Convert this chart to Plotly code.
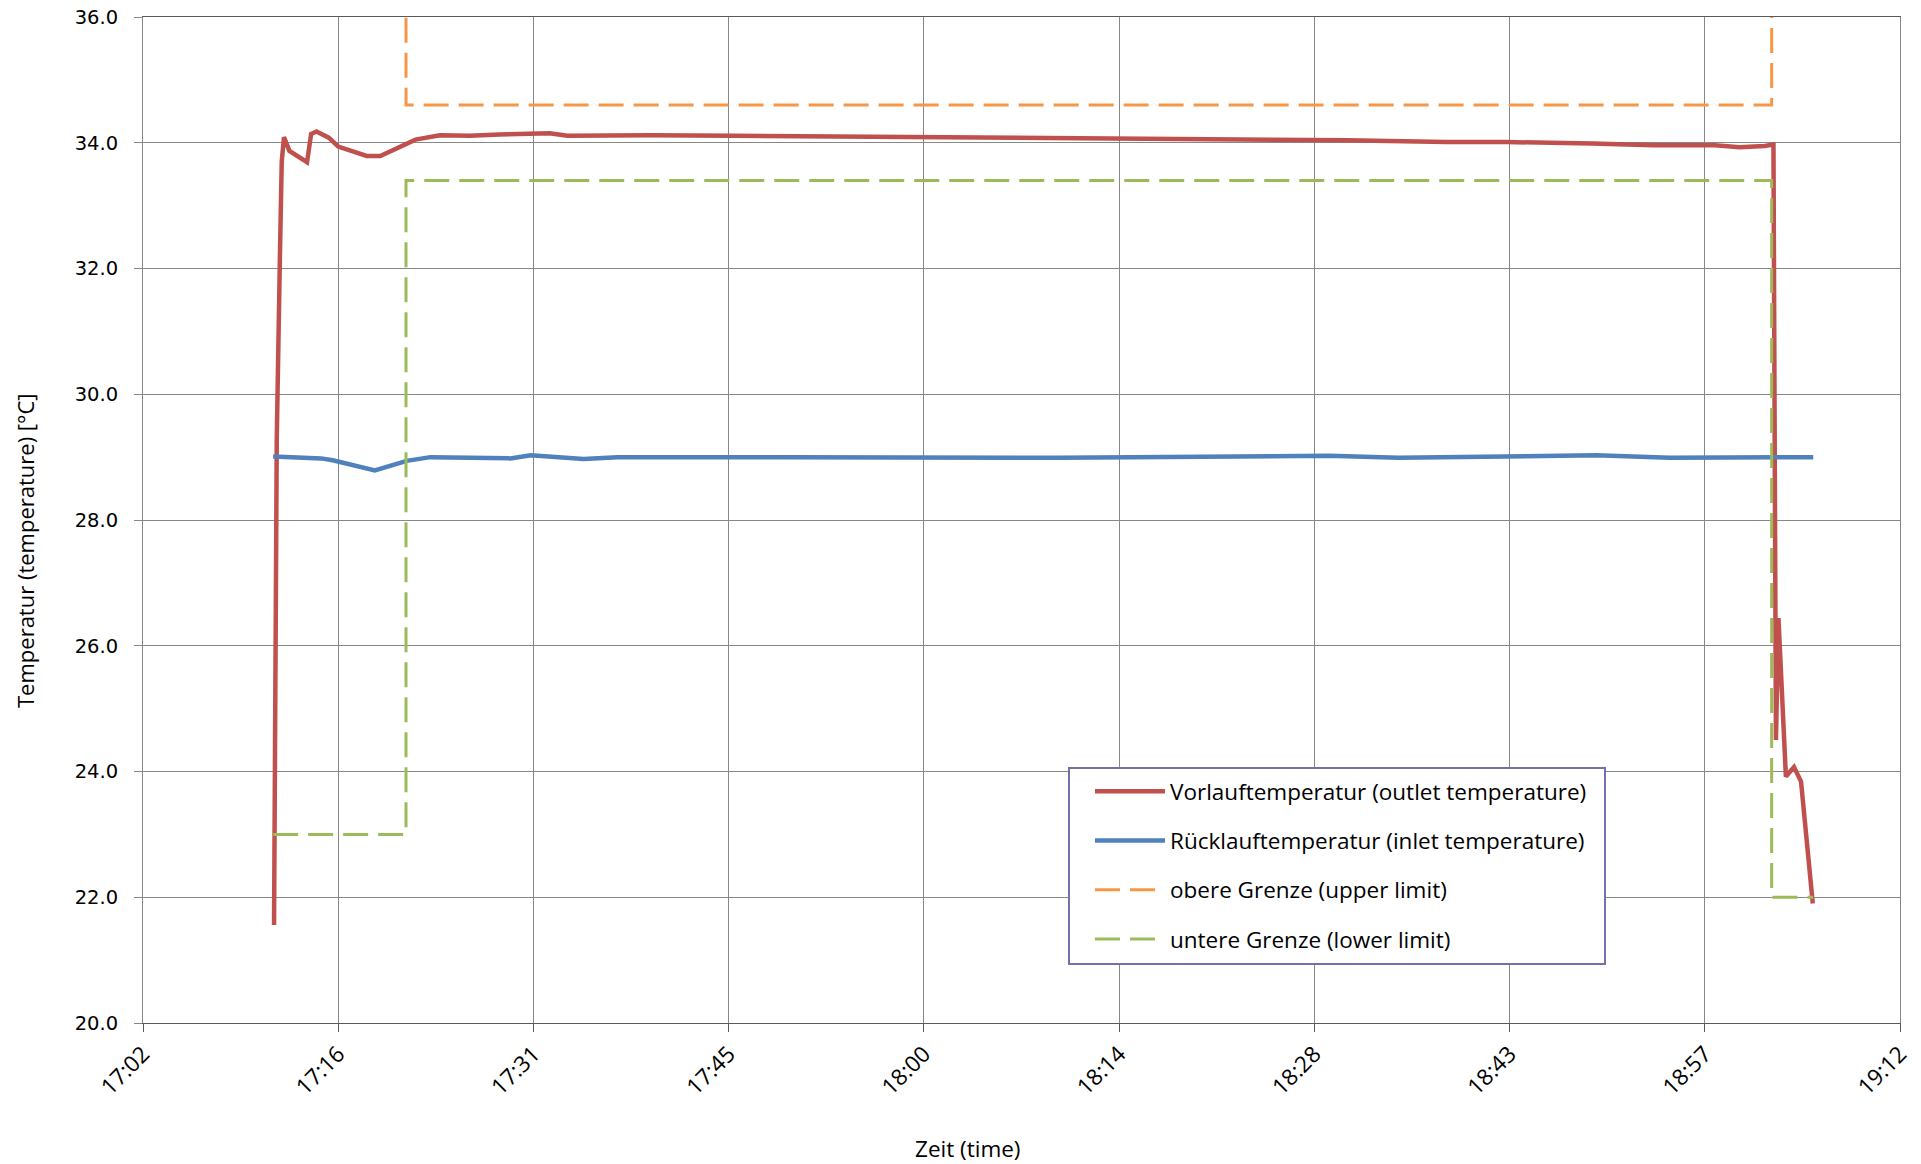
import plotly.graph_objects as go

DAY = "2024-01-01 "

# Vorlauftemperatur (outlet temperature)
outlet_time = ["17:12:04", "17:12:16", "17:12:30", "17:12:38", "17:12:48", "17:13:12", "17:14:30",
               "17:14:48", "17:15:12", "17:16:06", "17:16:48", "17:17:42", "17:18:54", "17:19:54",
               "17:21:06", "17:22:30", "17:24:18", "17:26:30", "17:28:42", "17:32:24", "17:33:42",
               "17:39:48", "17:46:03", "17:52:00", "17:59:36", "18:06:00", "18:13:10", "18:19:00",
               "18:25:48", "18:31:12", "18:38:30", "18:43:00", "18:49:18", "18:53:48", "18:58:21",
               "19:00:10", "19:02:00", "19:02:40", "19:02:51", "19:03:02", "19:03:35", "19:04:11",
               "19:04:42", "19:05:34"]
outlet_temp = [21.56, 29.3, 32.2, 33.7, 34.09, 33.87, 33.69,
               34.14, 34.18, 34.08, 33.94, 33.87, 33.79, 33.79,
               33.91, 34.05, 34.12, 34.11, 34.13, 34.15, 34.11,
               34.12, 34.11, 34.10, 34.09, 34.08, 34.07, 34.06,
               34.06, 34.04, 34.01, 34.01, 33.99, 33.96, 33.96,
               33.93, 33.95, 33.97, 24.5, 26.44, 23.92, 24.07,
               23.84, 21.9]

# Rücklauftemperatur (inlet temperature)
inlet_time = ["17:12:00", "17:15:33", "17:16:24", "17:19:30", "17:21:51", "17:23:36", "17:29:30",
              "17:31:00", "17:34:54", "17:37:24", "17:50:00", "18:10:00", "18:29:54", "18:35:00",
              "18:49:36", "18:55:00", "19:05:36"]
inlet_temp = [29.01, 28.98, 28.95, 28.79, 28.94, 29.0, 28.98,
              29.03, 28.97, 29.0, 29.0, 28.99, 29.02, 28.99,
              29.03, 28.99, 29.0]

# obere Grenze (upper limit)
upper_time = ["17:12:00", "17:21:48", "17:21:48", "19:02:32", "19:02:32", "19:05:36"]
upper_temp = [40.0, 40.0, 34.6, 34.6, 40.0, 40.0]

# untere Grenze (lower limit)
lower_time = ["17:12:00", "17:21:48", "17:21:48", "19:02:32", "19:02:32", "19:05:36"]
lower_temp = [23.0, 23.0, 33.4, 33.4, 22.0, 22.0]

tick_times = ["17:02:24", "17:16:48", "17:31:12", "17:45:36", "18:00:00",
              "18:14:24", "18:28:48", "18:43:12", "18:57:36", "19:12:00"]
tick_labels = ["17:02", "17:16", "17:31", "17:45", "18:00",
               "18:14", "18:28", "18:43", "18:57", "19:12"]

def dt(ts):
    return [DAY + t for t in ts]

fig = go.Figure()
fig.add_trace(go.Scatter(x=dt(outlet_time), y=outlet_temp, mode="lines",
                         name="Vorlauftemperatur (outlet temperature)", legendgroup="a",
                         line=dict(color="#C0504D", width=4.5)))
fig.add_trace(go.Scatter(x=dt(inlet_time), y=inlet_temp, mode="lines",
                         name="Rücklauftemperatur (inlet temperature)", legendgroup="b",
                         line=dict(color="#4F81BD", width=4.5)))
fig.add_trace(go.Scatter(x=dt(upper_time), y=upper_temp, mode="lines",
                         name="obere Grenze (upper limit)", legendgroup="c",
                         line=dict(color="#F79646", width=3, dash="25px,10px")))
fig.add_trace(go.Scatter(x=dt(lower_time), y=lower_temp, mode="lines",
                         name="untere Grenze (lower limit)", legendgroup="d",
                         line=dict(color="#9BBB59", width=3, dash="25px,10px")))

W, H = 1921, 1164
L, R, T, B = 143, 21, 17, 141
pw, ph = W - L - R, H - T - B

def px(xp):
    return (xp - L) / pw

def py(yp):
    return (H - B - yp) / ph

fig.update_layout(
    width=W, height=H,
    margin=dict(l=L, r=R, t=T, b=B, autoexpand=False),
    paper_bgcolor="white", plot_bgcolor="white",
    font=dict(family="Open Sans", size=21, color="#000000"),
    showlegend=True,
    legend=dict(
        x=px(1090), y=py(770), xanchor="left", yanchor="top",
        bgcolor="rgba(0,0,0,0)", borderwidth=0,
        font=dict(family="Open Sans", size=22.5, color="#000000"),
        tracegroupgap=17, itemwidth=70,
    ),
    shapes=[
        dict(type="rect", xref="paper", yref="paper",
             x0=px(1069), x1=px(1605), y0=py(964), y1=py(768),
             line=dict(color="#7272A6", width=2), fillcolor="white", layer="above"),
    ],
    xaxis=dict(
        type="date", automargin=False,
        range=[DAY + tick_times[0], DAY + tick_times[-1]],
        tickvals=dt(tick_times), ticktext=tick_labels,
        tickangle=-45, ticklabeloverflow="allow",
        tickfont=dict(family="Open Sans", size=22.5, color="#000000"),
        showgrid=True, gridcolor="#878787", gridwidth=1,
        showline=True, linecolor="#5a5a5a", linewidth=1, mirror=True,
        ticks="outside", ticklen=8, tickcolor="#5a5a5a",
        zeroline=False,
    ),
    yaxis=dict(
        range=[20, 36], dtick=2, tick0=20, tickformat=".1f", automargin=False,
        ticklabeloverflow="allow",
        tickfont=dict(family="DejaVu Sans", size=19.5, color="#000000"),
        showgrid=True, gridcolor="#878787", gridwidth=1,
        showline=True, linecolor="#878787", linewidth=1, mirror=True,
        ticks="outside", ticklen=8, tickcolor="#878787", ticklabelstandoff=12,
        zeroline=False,
    ),
    annotations=[
        dict(text="Zeit (time)", xref="paper", yref="paper",
             x=px(968), y=py(1148), xanchor="center", yanchor="middle",
             showarrow=False, font=dict(family="Open Sans", size=22.5, color="#000000")),
        dict(text="Temperatur (temperature) [°C]", xref="paper", yref="paper",
             x=px(25), y=py(551), xanchor="center", yanchor="middle",
             textangle=-90, showarrow=False,
             font=dict(family="Open Sans", size=22, color="#000000")),
    ],
)

# remove the default 8px page margin so the figure fills the window exactly
fig.write_html("out.html", config={"displayModeBar": False},
               post_script="document.body.style.margin='0';")
